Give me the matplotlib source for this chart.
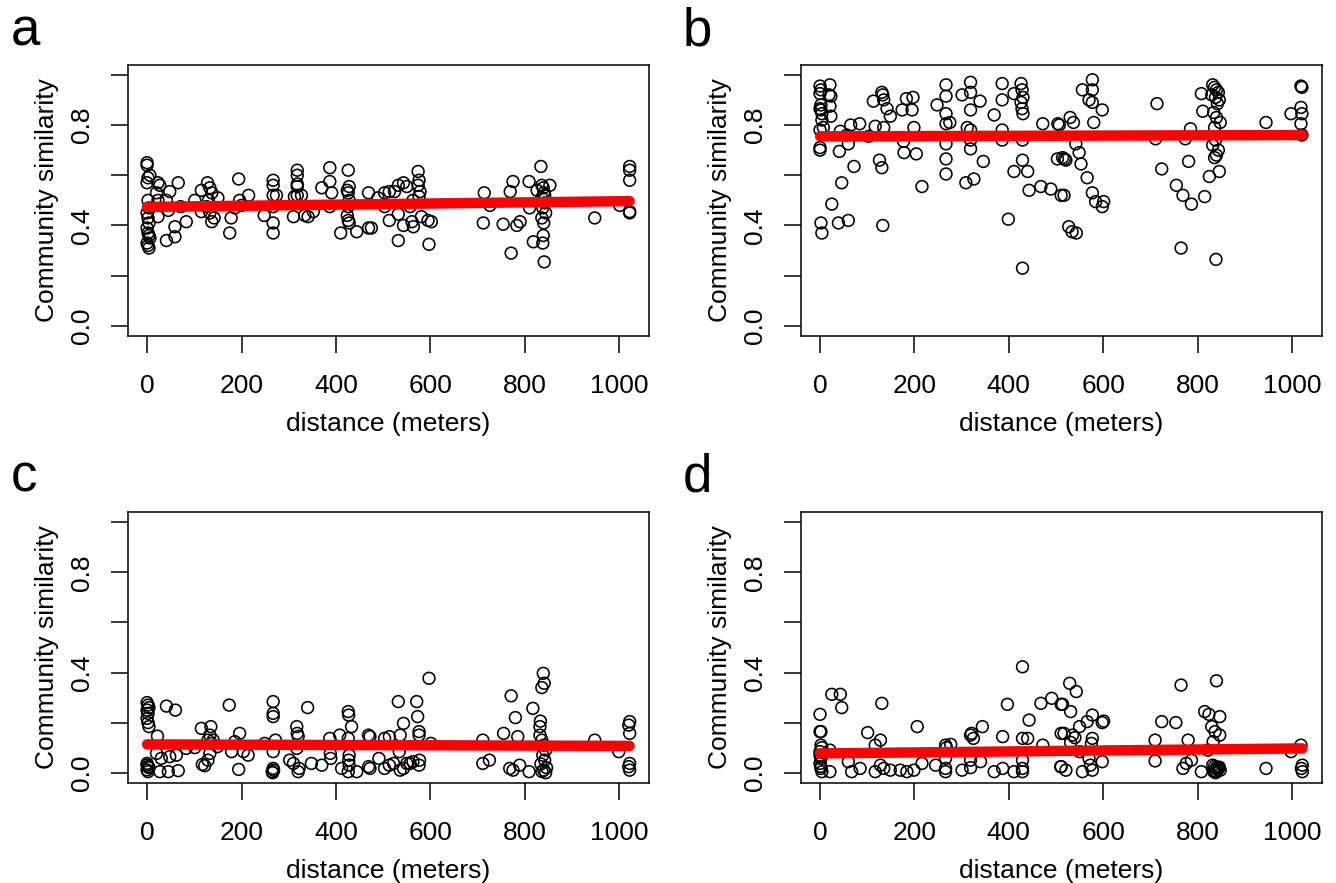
# =========================================
# IMPORT LIBRARY
# =========================================
import matplotlib
matplotlib.use("Agg")
import matplotlib.pyplot as plt

plt.rcParams["font.family"] = ["Liberation Sans", "DejaVu Sans"]

# =========================================
# DATA
# =========================================
# panel a
A_DIST = [0, 0, 2, 0, 2, 4, 0, 2, 4, 0, 2, 4, 6, 0, 2, 4,
          6, 23, 27, 20, 23, 23, 48, 66, 41, 59, 41, 59, 83, 45, 71,
          101, 115, 128, 133, 137, 130, 150, 115, 133, 137, 142, 126,
          175, 178, 194, 196, 200, 215, 186,
          267, 267, 267, 267, 248, 267, 267, 274,
          318, 318, 318, 318, 318, 327, 310, 334, 341, 312,
          370, 387, 387, 391, 387, 352,
          426, 428, 424, 426, 428, 426, 424, 426, 428, 410, 444, 469, 469,
          475, 489, 503, 513, 524, 503, 513, 532, 543, 550, 532, 543, 532,
          561, 564, 574, 576, 574, 578, 576, 581, 595, 602, 597, 563, 557,
          714, 712, 726,
          754, 769, 775, 783, 790, 771,
          809, 818, 834, 836, 839, 853, 826, 840, 836, 842, 838, 844, 836,
          840, 842, 839, 838, 841, 810,
          948,
          1022, 1022, 1022, 1001, 1022, 1022]
A_SIM = [0.65, 0.64, 0.59, 0.57, 0.50, 0.47, 0.45, 0.43, 0.41, 0.39, 0.37, 0.36, 0.35, 0.33, 0.32, 0.31,
         0.60, 0.57, 0.56, 0.53, 0.50, 0.435, 0.535, 0.57, 0.50, 0.395, 0.34, 0.355, 0.415, 0.46, 0.475,
         0.50, 0.54, 0.57, 0.55, 0.53, 0.50, 0.51, 0.455, 0.45, 0.415, 0.43, 0.475,
         0.37, 0.43, 0.585, 0.50, 0.48, 0.52, 0.47,
         0.58, 0.56, 0.52, 0.475, 0.44, 0.41, 0.37, 0.52,
         0.62, 0.60, 0.565, 0.555, 0.52, 0.52, 0.435, 0.44, 0.435, 0.515,
         0.55, 0.63, 0.575, 0.53, 0.475, 0.455,
         0.62, 0.555, 0.54, 0.53, 0.50, 0.475, 0.44, 0.42, 0.41, 0.37, 0.375, 0.53, 0.39,
         0.39, 0.51, 0.53, 0.535, 0.535, 0.475, 0.42, 0.56, 0.57, 0.555, 0.445, 0.40, 0.34,
         0.415, 0.395, 0.615, 0.58, 0.56, 0.535, 0.515, 0.435, 0.42, 0.415, 0.325, 0.50, 0.475,
         0.53, 0.41, 0.48,
         0.405, 0.535, 0.575, 0.40, 0.415, 0.29,
         0.575, 0.335, 0.635, 0.56, 0.55, 0.56, 0.54, 0.53, 0.51, 0.49, 0.47, 0.45, 0.43,
         0.41, 0.52, 0.36, 0.33, 0.255, 0.47,
         0.43,
         0.635, 0.62, 0.58, 0.48, 0.455, 0.45]
A_FIT = [0.474, 0.497]

# panel b
B_DIST = [0, 0, 2, 0, 2, 4, 4, 0, 0, 2, 4, 2, 0,
          21, 19, 23, 21, 23, 7, 25, 39, 60, 41, 60, 46, 72, 65, 84, 43, 57,
          103, 113, 117, 131, 133, 135, 142, 149, 126, 131, 133, 135,
          174, 183, 197, 195, 177, 178, 204, 199, 216,
          248, 267, 267, 267, 267, 275, 267, 267, 267,
          312, 309, 326, 301, 319, 319, 319, 319, 319, 319, 339, 346,
          369, 386, 386, 386, 386, 399, 411,
          426, 428, 430, 426, 428, 430, 429, 429, 411, 440, 429, 443,
          472, 468, 489, 504, 503, 511,
          507, 514, 518, 521, 530, 537, 527, 534, 543, 517, 542, 549, 553, 566,
          577, 577, 570, 577, 580, 556, 598, 577, 584, 601, 598,
          714, 711, 724,
          755, 769, 787, 765, 781, 774, 785,
          832, 836, 840, 844, 830, 838, 846, 842, 834, 840, 848, 836, 838, 832, 844, 840, 836,
          808, 815, 811, 825, 846, 839,
          945,
          998, 1019, 1021, 1019, 1021, 1019, 1021]
B_SIM = [0.955, 0.925, 0.94, 0.865, 0.86, 0.845, 0.82, 0.78, 0.71, 0.41, 0.37, 0.88, 0.70,
         0.96, 0.92, 0.915, 0.875, 0.835, 0.79, 0.485, 0.41, 0.42, 0.695, 0.725, 0.57, 0.635, 0.80, 0.805, 0.775, 0.76,
         0.755, 0.895, 0.795, 0.93, 0.92, 0.90, 0.865, 0.835, 0.66, 0.63, 0.40, 0.79,
         0.86, 0.905, 0.91, 0.86, 0.735, 0.69, 0.685, 0.79, 0.555,
         0.88, 0.96, 0.915, 0.845, 0.805, 0.81, 0.725, 0.665, 0.605,
         0.79, 0.57, 0.585, 0.92, 0.97, 0.93, 0.86, 0.74, 0.705, 0.78, 0.895, 0.655,
         0.84, 0.965, 0.90, 0.78, 0.74, 0.425, 0.925,
         0.965, 0.94, 0.91, 0.89, 0.865, 0.845, 0.74, 0.66, 0.615, 0.615, 0.23, 0.54,
         0.805, 0.555, 0.545, 0.805, 0.665, 0.52,
         0.80, 0.67, 0.665, 0.66, 0.83, 0.81, 0.395, 0.375, 0.37, 0.52, 0.725, 0.69, 0.645, 0.59,
         0.98, 0.94, 0.90, 0.89, 0.81, 0.94, 0.86, 0.53, 0.495, 0.495, 0.475,
         0.885, 0.745, 0.625,
         0.56, 0.52, 0.485, 0.31, 0.655, 0.745, 0.785,
         0.96, 0.95, 0.94, 0.93, 0.92, 0.91, 0.90, 0.885, 0.85, 0.83, 0.81, 0.79, 0.74, 0.72, 0.70, 0.68, 0.67,
         0.925, 0.515, 0.855, 0.595, 0.615, 0.265,
         0.81,
         0.845, 0.955, 0.95, 0.87, 0.845, 0.805, 0.76]
B_FIT = [0.755, 0.760]

# panel c
C_DIST = [0, 2, 4, 0, 2, 0, 2, 4, 0, 2, 0, 2, 4, 0,
          22, 20, 30, 27, 45, 66, 41, 60, 48, 62, 83,
          101, 115, 135, 133, 129, 137, 140, 133, 129, 117, 122, 149,
          174, 196, 186, 204, 214, 194, 179,
          267, 267, 267, 272, 267, 267, 265, 249, 268, 266,
          317, 318, 320, 317, 302, 310, 322, 320, 340, 348, 370,
          387, 388, 389, 408, 426, 427, 433, 426, 428, 427, 428, 426, 412, 444, 469, 469,
          472, 472, 491, 503, 513, 503, 513, 532, 543, 536, 534, 522, 536, 543, 550,
          571, 573, 576, 576, 577, 576, 563, 557, 597, 601,
          711, 711, 725, 755, 771, 780, 785, 768, 775, 789, 809,
          817, 833, 832, 839, 841, 836, 832,
          836, 840, 844, 838, 842, 834, 846, 840, 836, 844,
          948, 999,
          1022, 1020, 1022, 1022, 1020, 1022]
C_SIM = [0.28, 0.27, 0.26, 0.25, 0.237, 0.217, 0.20, 0.184, 0.037, 0.024, 0.011, 0.004, 0.02, 0.03,
         0.146, 0.077, 0.057, 0.004, 0.004, 0.008, 0.266, 0.25, 0.064, 0.07, 0.097,
         0.10, 0.177, 0.184, 0.15, 0.13, 0.117, 0.13, 0.077, 0.05, 0.033, 0.028, 0.104,
         0.27, 0.157, 0.124, 0.084, 0.07, 0.013, 0.084,
         0.284, 0.237, 0.224, 0.13, 0.084, 0.017, 0.004, 0.117, 0.01, 0.0,
         0.184, 0.157, 0.145, 0.097, 0.05, 0.037, 0.017, 0.004, 0.26, 0.037, 0.03,
         0.137, 0.077, 0.057, 0.15, 0.244, 0.23, 0.184, 0.137, 0.07, 0.05, 0.03, 0.004, 0.017, 0.004, 0.15, 0.024,
         0.144, 0.017, 0.057, 0.137, 0.144, 0.017, 0.03, 0.284, 0.197, 0.15, 0.084, 0.037, 0.01, 0.017, 0.037,
         0.284, 0.224, 0.164, 0.15, 0.05, 0.03, 0.044, 0.037, 0.377, 0.117,
         0.13, 0.037, 0.05, 0.157, 0.307, 0.22, 0.144, 0.017, 0.01, 0.03, 0.004,
         0.257, 0.206, 0.184, 0.397, 0.357, 0.34, 0.15,
         0.13, 0.11, 0.09, 0.07, 0.05, 0.035, 0.02, 0.01, 0.005, 0.0,
         0.13, 0.084,
         0.204, 0.19, 0.157, 0.037, 0.024, 0.01]
C_FIT = [0.113, 0.107]

# panel d
D_DIST = [0, 0, 2, 2, 4, 0, 2, 0, 2, 4, 21, 21, 0, 2,
          25, 43, 46, 60, 67, 85, 101, 128, 117, 131, 117, 135, 149, 128,
          170, 184, 199, 206, 216, 245, 266, 268, 277, 266, 266, 266,
          301, 319, 321, 325, 319, 319, 344, 340, 369, 387, 387, 397, 411,
          429, 429, 440, 443, 429, 429, 429, 468, 491, 511, 472, 511, 511,
          529, 543, 514, 531, 577, 566, 601, 598, 550, 517, 535, 540, 577, 531, 575,
          550, 570, 598, 510, 521, 556, 577, 573,
          724, 754, 710, 710, 780, 765, 840, 815, 824, 847, 830, 837, 847, 833, 822,
          808, 769, 776, 787,
          832, 836, 840, 844, 848, 834, 838, 842, 846, 836, 840, 844,
          945, 998,
          1019, 1022, 1020, 1022]
D_SIM = [0.233, 0.164, 0.164, 0.11, 0.10, 0.084, 0.057, 0.037, 0.017, 0.004, 0.09, 0.004, 0.07, 0.025,
         0.313, 0.313, 0.26, 0.044, 0.004, 0.017, 0.16, 0.13, 0.11, 0.277, 0.004, 0.017, 0.01, 0.03,
         0.01, 0.004, 0.01, 0.184, 0.037, 0.03, 0.11, 0.10, 0.113, 0.057, 0.017, 0.004,
         0.01, 0.15, 0.157, 0.137, 0.05, 0.02, 0.184, 0.044, 0.004, 0.144, 0.017, 0.273, 0.004,
         0.137, 0.423, 0.137, 0.21, 0.05, 0.017, 0.004, 0.277, 0.297, 0.273, 0.11, 0.157, 0.024,
         0.357, 0.324, 0.273, 0.244, 0.23, 0.204, 0.206, 0.20, 0.184, 0.157, 0.15, 0.14, 0.137, 0.121, 0.117,
         0.084, 0.057, 0.044, 0.024, 0.01, 0.004, 0.01, 0.03,
         0.204, 0.20, 0.13, 0.047, 0.13, 0.35, 0.367, 0.244, 0.233, 0.224, 0.184, 0.164, 0.15, 0.124, 0.09,
         0.004, 0.017, 0.037, 0.05,
         0.03, 0.025, 0.02, 0.015, 0.01, 0.005, 0.0, 0.012, 0.022, 0.008, 0.003, 0.018,
         0.017, 0.084,
         0.11, 0.03, 0.017, 0.004]
D_FIT = [0.077, 0.097]

FIT_RANGE = [0, 1022]

PANELS = [
    ("a", A_DIST, A_SIM, A_FIT, [0.0956, 0.6195, 0.3902, 0.3072], (0.008, 0.949)),
    ("b", B_DIST, B_SIM, B_FIT, [0.5993, 0.6195, 0.3900, 0.3072], (0.511, 0.949)),
    ("c", C_DIST, C_SIM, C_FIT, [0.0956, 0.1136, 0.3902, 0.3062], (0.008, 0.443)),
    ("d", D_DIST, D_SIM, D_FIT, [0.5993, 0.1136, 0.3900, 0.3062], (0.511, 0.443)),
]

# =========================================
# PLOT
# =========================================
fig = plt.figure(figsize=(13.36, 8.83), dpi=100)

for letter, dist, sim, fit, pos, lpos in PANELS:
    ax = fig.add_axes(pos)
    ax.scatter(dist, sim, s=72, facecolors="none", edgecolors="black",
               linewidths=1.15, zorder=2)
    ax.plot(FIT_RANGE, fit, color="#ff0000", lw=7.5,
            solid_capstyle="round", zorder=3)

    ax.set_xlim(-41, 1063)
    ax.set_ylim(-0.04, 1.04)
    ax.set_xticks([0, 200, 400, 600, 800, 1000])
    ax.set_yticks([0.0, 0.2, 0.4, 0.6, 0.8, 1.0])
    ax.set_yticklabels(["0.0", "", "0.4", "", "0.8", ""], rotation=90,
                       va="center")
    ax.tick_params(labelsize=19, length=12, width=1.1)
    ax.tick_params(axis="x", pad=15.5)
    ax.tick_params(axis="y", pad=12)

    for sp in ax.spines.values():
        sp.set_linewidth(1.1)

    ax.set_xlabel("distance (meters)", fontsize=19, labelpad=10)
    ax.set_ylabel("Community similarity", fontsize=19, labelpad=8.5)

    fig.text(lpos[0], lpos[1], letter, fontsize=38, va="baseline", ha="left")

fig.savefig("out.png", dpi=100)
